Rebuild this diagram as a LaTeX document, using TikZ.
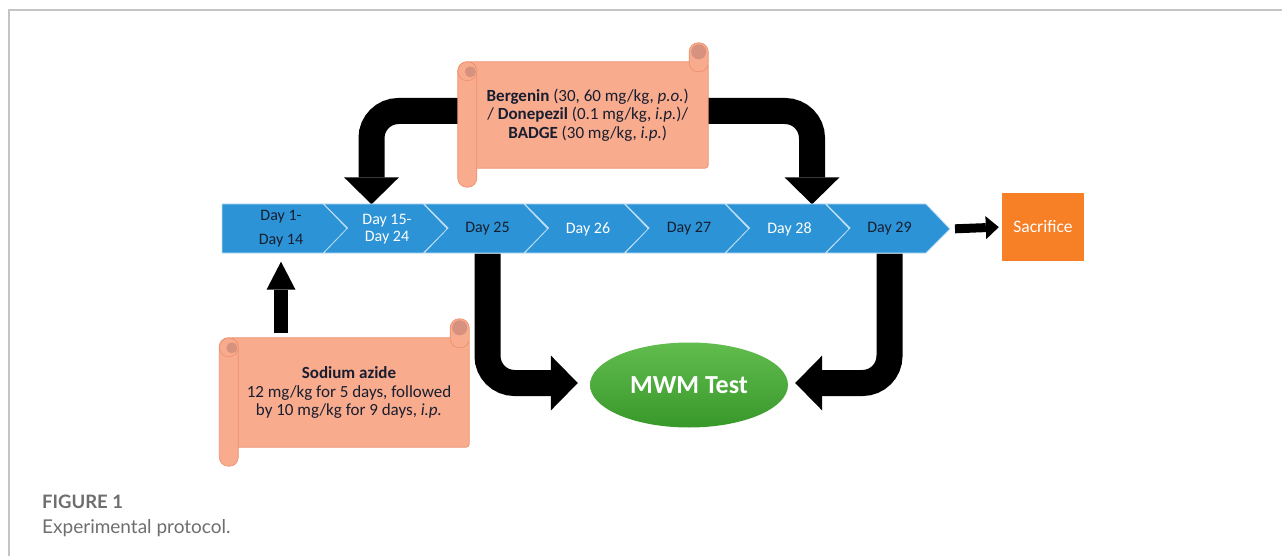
\documentclass[tikz,border=0pt]{standalone}
\usepackage{fontspec}
\setmainfont{Carlito}
\newfontfamily\capfont{Lato}
\usetikzlibrary{arrows.meta,shapes.geometric,calc}

\definecolor{barblue}{RGB}{44,147,214}
\definecolor{chevline}{RGB}{190,222,245}
\definecolor{daydark}{RGB}{24,30,48}
\definecolor{scrollfill}{RGB}{249,171,141}
\definecolor{scrolledge}{RGB}{238,146,112}
\definecolor{scrollcurl}{RGB}{214,146,126}
\definecolor{sacorange}{RGB}{247,127,38}
\definecolor{mwmtop}{RGB}{98,188,78}
\definecolor{mwmbot}{RGB}{56,152,42}
\definecolor{framegray}{RGB}{196,196,196}
\definecolor{capgray}{RGB}{110,110,110}

\pgfdeclarelayer{arrowlayer}
\pgfdeclarelayer{shapelayer}
\pgfsetlayers{arrowlayer,shapelayer,main}

\tikzset{
  chev/.style={fill=barblue, draw=chevline, line width=0.8pt, line join=miter},
  daybox/.style={rectangle, minimum width=100pt, minimum height=49pt, inner sep=0pt,
    align=center, font=\fontsize{16}{16.5}\selectfont},
  scrolltext/.style={rectangle, inner sep=0pt, align=center, text=daydark,
    font=\fontsize{17}{18.5}\selectfont},
  scrollpart/.style={fill=scrollfill, draw=scrolledge, line width=0.7pt},
  bigarrow/.style={draw=black, line width=26pt, rounded corners=27pt,
    -{Triangle[length=27pt,width=55pt,line width=0pt]}},
  uparrow/.style={draw=black, line width=14pt,
    -{Triangle[length=28pt,width=29pt,line width=0pt]}},
  smallarrow/.style={draw=black, line width=9pt,
    -{Triangle[length=13pt,width=23pt,line width=0pt]}},
}

% scroll decoration around a body node: left roll hanging down, right roll sticking up
\newcommand\scrolldeco[1]{%
  \begin{pgfonlayer}{shapelayer}
    \filldraw[scrollpart, rounded corners=3pt] (#1.north west) rectangle (#1.south east);
    \filldraw[scrollpart, rounded corners=9pt]
      ($(#1.north east)+(-19,-19)$) rectangle ($(#1.north east)+(0,10)$);
    \fill[scrollcurl] ($(#1.north east)+(-9.5,-10)$) circle (7.5pt);
    \filldraw[scrollpart, rounded corners=9pt]
      ($(#1.north west)+(-9.5,0)$) rectangle ($(#1.south west)+(9.5,19)$);
    \filldraw[scrollpart] ($(#1.north west)+(0,9.5)$) circle (9.5pt);
    \fill[scrollcurl] ($(#1.north west)+(3,10)$) circle (5.5pt);
  \end{pgfonlayer}}

\begin{document}
\begin{tikzpicture}[x=1pt,y=-1pt]
\useasboundingbox (0,0) rectangle (1282,556);

% frame
\draw[framegray, line width=1.4pt] (9,556) -- (9,10) -- (1282,10);

% timeline chevrons
\filldraw[chev] (222,204) -- (323.5,204) -- (347.5,229) -- (323.5,253) -- (222,253) -- cycle;
\foreach \i in {2,...,7} {
  \pgfmathsetmacro\L{223+100.5*(\i-1)}
  \filldraw[chev] (\L,204) -- ++(100,0) -- ++(24,25) -- ++(-24,24) -- ++(-100,0) -- ++(24,-25) -- cycle;
}
\coordinate (bartip) at (950,229);

% day labels
\node[daybox, text=daydark] (d1) at (281,229) {Day 1-\\[7.5pt]Day 14};
\node[daybox, text=white]   (d2) at (387,229) {Day 15-\\Day 24};
\node[daybox, text=daydark] (d3) at (487.5,229) {Day 25};
\node[daybox, text=white]   (d4) at (588,229) {Day 26};
\node[daybox, text=daydark] (d5) at (689,229) {Day 27};
\node[daybox, text=white]   (d6) at (789.5,229) {Day 28};
\node[daybox, text=daydark] (d7) at (889.5,229) {Day 29};

% end point
\node[rectangle, fill=sacorange, minimum width=82pt, minimum height=68pt, inner sep=0pt,
  text=white, font=\fontsize{17.5}{19}\selectfont] (sac) at (1043,227) {Sacrifice};

% behavioural test
\node[ellipse, top color=mwmtop, bottom color=mwmbot, minimum width=198pt, minimum height=85pt,
  inner sep=0pt, text=white, font=\bfseries\fontsize{26}{28}\selectfont] (mwm) at (689,385) {MWM Test};

% treatment scrolls
\node[scrolltext, minimum width=240.5pt, minimum height=106pt] (berg) at (587.75,115)
  {\textbf{Bergenin} (30, 60 mg/kg, \textit{p.o.})\\/ \textbf{Donepezil} (0.1 mg/kg, \textit{i.p.})/\\\textbf{BADGE} (30 mg/kg, \textit{i.p.})};
\scrolldeco{berg}

\node[scrolltext, minimum width=240pt, minimum height=109pt] (azide) at (349,392.5)
  {\textbf{Sodium azide}\\12 mg/kg for 5 days, followed\\by 10 mg/kg for 9 days, \textit{i.p.}};
\scrolldeco{azide}

% connectors
\begin{pgfonlayer}{arrowlayer}
  \draw[bigarrow] ([yshift=4pt]berg.west) -| ([xshift=-15.5pt]d2.north);
  \draw[bigarrow] ([yshift=4pt]berg.east) -| ([xshift=22.5pt]d6.north);
  \draw[bigarrow] (d3.south) |- ([xshift=-12pt,yshift=2pt]mwm.west);
  \draw[bigarrow] (d7.south) |- ([xshift=7pt,yshift=2pt]mwm.east);
\end{pgfonlayer}
\draw[uparrow, shorten <=5pt, shorten >=8pt] (azide.north -| d1.south) -- (d1.south);
\draw[smallarrow, shorten <=5pt, shorten >=3pt] (bartip) -- (sac.west);

% caption
\node[anchor=base west, inner sep=0pt, text=capgray, font=\capfont\bfseries\fontsize{18.5}{20}\selectfont]
  (figlabel) at (42,508) {FIGURE 1};
\node[anchor=base west, inner sep=0pt, text=capgray, font=\capfont\fontsize{19}{21}\selectfont]
  (figtext) at (42,533) {Experimental protocol.};
\end{tikzpicture}
\end{document}
